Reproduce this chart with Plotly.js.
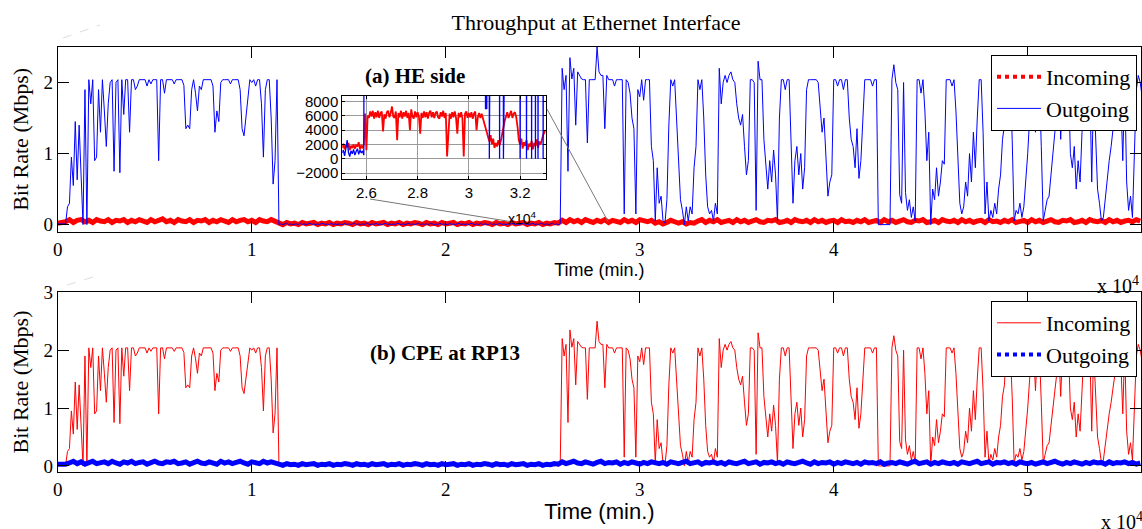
<!DOCTYPE html>
<html><head><meta charset="utf-8">
<script src="https://cdn.plot.ly/plotly-3.0.1.min.js"></script>
<style>html,body{margin:0;padding:0;background:#fff}#chart{width:1142px;height:529px}</style>
</head><body><div id="chart"></div>
<script>
const W = 1142, H = 529;
// time axis (samples every 100 s for the traffic, 200 s for the low-rate band)
const timeStart = 0, timeStep = 100, bandStep = 200;
const tickVals = [0, 10000, 20000, 30000, 40000, 50000];
const tickText = ['0', '1', '2', '3', '4', '5'];
const yTicksTop = [0, 1, 2];
const yTicksBottom = [0, 1, 2, 3];

// (a) HE side, Outgoing (Mbps)
const outgoingHE = [
0.01,0.01,0.01,0.01,0.01,0.25,0.3,0.95,0.55,1.45,
0.63,1.4,0.7,0.0,1.9,0.0,2.04,1.7,2.04,0.9,
0.95,1.9,1.3,2.04,1.6,1.1,1.7,2.0,2.04,0.75,
2.0,2.04,0.73,2.04,1.55,2.04,2.04,1.3,2.04,2.04,
1.9,1.95,2.04,2.04,2.04,2.04,1.95,2.04,1.98,2.04,
2.04,2.04,0.9,2.04,2.04,1.85,2.04,2.04,2.04,2.04,
1.98,2.04,2.04,2.04,2.04,1.96,1.35,1.4,1.35,1.9,
2.04,1.85,1.6,1.95,1.9,2.04,2.04,2.04,2.04,2.04,
1.95,1.3,1.6,1.45,2.0,2.04,2.04,2.04,2.04,1.98,
2.04,2.04,2.04,2.04,1.9,1.35,1.25,1.5,1.75,2.04,
2.0,2.04,1.95,2.04,2.04,1.7,0.95,1.9,2.04,2.04,
1.5,0.57,0.9,2.04,
0,0.01,0,0.01,0.02,0,0.01,0,0.01,0.01,
0,0.02,0,0.01,0,0.01,0.02,0,0.01,0,
0.01,0,0.02,0.01,0,0.01,0,0.02,0,0.01,
0,0.01,0.01,0,0.02,0,0.01,0,0.01,0.02,
0,0.01,0,0.01,0,0.02,0.01,0,0.01,0,
0.02,0,0.01,0,0.01,0.02,0,0.01,0,0.01,
0,0.02,0.01,0,0.01,0,0.01,0.02,0,0.01,
0,0.01,0.02,0,0.01,0,0.01,0,0.02,0.01,
0,0.01,0,0.02,0,0.01,0.01,0,0.02,0,
0.01,0,0.01,0.02,0,0.01,0,0.01,0,0.02,
0.01,0,0.01,0,0.02,0,0.01,0.01,0,0.02,
0,0.01,0,0.01,0.02,0,0.01,0,0.01,0,
0.02,0.01,0,0.01,0,0.01,0.02,0,0.01,0,
0.01,0.02,0,0.01,0,0.02,0.01,0,0.01,0,
0.01,0.02,0,0.01,0,0.01,
2.2,1.9,2.1,0.75,2.35,2.05,2.2,1.4,2.15,2.1,
2.05,2.04,2.04,1.15,2.04,2.04,2.04,2.04,2.5,2.15,
2.1,2.1,1.35,2.1,2.04,2.04,2.04,1.95,2.04,2.04,
2.04,2.04,0.15,2.04,2.0,1.85,1.5,1.35,0.15,1.9,
1.8,2.04,1.75,2.04,2.04,2.04,1.1,0.9,0.05,0.8,
0.3,0.4,0.05,0.02,0.35,1.4,2.04,1.95,2.04,1.4,
1.0,0.35,0.2,0.0,0.25,0.05,0.25,0.15,0.8,1.1,
2.04,1.9,2.04,1.5,0.7,0.25,0.15,0.2,0.05,0.3,
0.15,2.2,1.7,2.0,2.1,2.0,2.1,2.15,2.04,2.0,
1.7,1.5,1.4,1.55,1.1,0.7,0.9,2.04,2.04,2.0,
0.2,2.3,2.04,2.04,1.2,0.8,0.5,0.9,0.6,1.05,
0.7,0.05,1.5,2.04,2.04,1.9,2.04,2.04,1.3,0.3,
0.9,1.1,0.7,1.0,0.5,0.8,1.9,2.04,2.04,2.04,
2.04,2.04,2.0,1.6,1.3,1.5,0.9,0.4,0.6,0.7,
2.04,2.04,1.95,2.04,2.04,1.9,
2.04,2.04,1.5,1.2,1.1,0.8,1.35,0.65,0.9,1.4,
2.04,2.04,2.04,2.04,1.95,2.04,2.04,0.0,0.0,0.0,
0.0,0.0,0.0,0.0,2.04,2.25,2.0,1.9,0.42,0.3,
2.0,0.45,0.2,0.35,0.1,0.25,0.05,2.04,2.04,1.85,
2.04,1.6,0.9,1.3,0.0,0.5,0.35,0.8,0.4,0.6,
0.9,0.85,2.04,2.04,2.04,1.95,2.04,1.6,1.0,0.3,
0.15,0.25,0.6,0.4,1.0,0.6,1.3,0.8,1.5,2.04,
2.04,1.3,0.15,0.6,0.05,0.2,0.1,0.3,0.15,0.5,
0.7,1.2,1.4,2.04,2.04,2.0,1.2,0.05,0.2,0.15,
0.3,0.1,0.25,0.6,1.0,1.5,2.04,2.04,1.3,2.04,
2.0,1.1,0.05,0.2,0.35,0.4,0.7,0.9,1.2,1.6,
2.04,1.2,2.04,2.04,2.0,2.04,1.0,0.8,1.1,0.5,
0.9,0.6,1.3,2.04,2.04,1.8,2.04,0.6,2.0,1.2,
0.5,0.3,0.05,0.1,0.4,0.6,0.9,1.1,1.4,1.6,
2.04,2.04,1.8,0.9,2.04,0.6,0.2,0.4,0.1,1.0,
1.9,2.1,2.0,1.8
];

// (a) HE side, Incoming (Mbps), every 200 s
const incomingHE = [
0.02,0.03,0.04,0.07,0.03,0.06,0.07,0.04,0.06,0.03,
0.07,0.05,0.04,0.07,0.03,0.06,0.05,0.07,0.03,0.06,
0.04,0.07,0.05,0.03,0.07,0.04,0.06,0.08,0.04,0.06,
0.03,0.07,0.05,0.04,0.07,0.03,0.06,0.05,0.07,0.03,
0.06,0.04,0.07,0.05,0.03,0.07,0.04,0.06,0.07,0.04,
0.06,0.03,0.07,0.05,0.04,0.07,0.05,
0.02,0.0,0.03,0.01,0.02,0.0,0.03,0.01,0.02,0.03,
0.0,0.02,0.01,0.03,0.0,0.02,0.01,0.03,0.02,0.0,
0.03,0.01,0.02,0.0,0.03,0.01,0.02,0.03,0.0,0.02,
0.01,0.03,0.0,0.02,0.01,0.03,0.02,0.0,0.03,0.01,
0.02,0.0,0.03,0.01,0.02,0.03,0.0,0.02,0.01,0.03,
0.0,0.02,0.01,0.03,0.02,0.0,0.03,0.01,0.02,0.0,
0.03,0.01,0.02,0.03,0.0,0.02,0.01,0.03,0.0,0.02,
0.01,0.03,0.02,
0.06,0.03,0.07,0.04,0.06,0.03,0.07,0.05,0.03,0.06,
0.04,0.07,0.03,0.06,0.05,0.03,0.07,0.04,0.06,0.03,
0.07,0.05,0.04,0.06,0.02,0.04,0.01,0.03,0.06,0.04,
0.02,0.04,0.01,0.03,0.02,0.05,0.07,0.03,0.06,0.04,
0.07,0.03,0.05,0.06,0.03,0.07,0.04,0.06,0.03,0.05,
0.07,0.04,0.03,0.06,0.05,0.07,0.03,0.04,0.06,0.03,
0.07,0.05,0.04,0.06,0.03,0.07,0.04,0.06,0.03,0.05,
0.06,0.03,0.07,0.04,0.05,0.03,0.06,0.04,0.07,0.03,
0.05,0.06,0.03,0.07,0.04,0.06,0.03,0.05,0.07,0.04,
0.03,0.06,0.05,0.07,0.03,0.04,0.06,0.03,0.07,0.05,
0.04,0.06,0.03,0.07,0.04,0.06,0.03,0.05,0.06,0.03,
0.07,0.04,0.05,0.03,0.06,0.04,0.07,0.03,0.05,0.06,
0.03,0.07,0.04,0.06,0.03,0.05,0.07,0.04,0.03,0.06,
0.05,0.07,0.03,0.04,0.06,0.03,0.07,0.05,0.04,0.06,
0.03,0.07,0.04,0.06,0.03,0.05,0.06,0.04,0.07,0.05
];

// (b) CPE at RP13: the incoming traffic mirrors the HE outgoing traffic
const incomingCPE = outgoingHE;
// (b) CPE at RP13, Outgoing (Mbps), every 200 s
const outgoingCPE = [
0.03,0.02,0.03,
0.05,0.08,0.04,0.07,0.03,0.06,0.08,0.04,0.06,0.07,
0.04,0.08,0.05,0.03,0.07,0.05,0.08,0.04,0.06,0.07,
0.03,0.06,0.08,0.05,0.04,0.07,0.06,0.08,0.04,0.05,
0.07,0.03,0.06,0.08,0.05,0.04,0.07,0.06,0.03,0.08,
0.05,0.07,0.04,0.06,0.08,0.05,0.03,0.07,0.06,0.04,
0.08,0.05,0.07,0.06,
0.03,0.01,0.04,0.02,0.03,0.01,0.04,0.02,0.03,0.04,
0.01,0.03,0.02,0.04,0.01,0.03,0.02,0.04,0.03,0.01,
0.04,0.02,0.03,0.01,0.04,0.02,0.03,0.04,0.01,0.03,
0.02,0.04,0.01,0.03,0.02,0.04,0.03,0.01,0.04,0.02,
0.03,0.01,0.04,0.02,0.03,0.04,0.01,0.03,0.02,0.04,
0.01,0.03,0.02,0.04,0.03,0.01,0.04,0.02,0.03,0.01,
0.04,0.02,0.03,0.04,0.01,0.03,0.02,0.04,0.01,0.03,
0.02,0.04,0.03,
0.07,0.04,0.06,0.08,0.05,0.04,0.07,0.05,0.03,0.06,
0.08,0.04,0.06,0.05,0.07,0.03,0.06,0.04,0.07,0.05,
0.03,0.06,0.04,0.07,0.05,0.04,0.06,0.03,0.07,0.05,
0.04,0.06,0.08,0.04,0.05,0.07,0.03,0.06,0.05,0.07,
0.04,0.06,0.03,0.07,0.05,0.04,0.06,0.08,0.04,0.05,
0.07,0.03,0.06,0.05,0.07,0.04,0.06,0.03,0.07,0.05,
0.04,0.06,0.08,0.05,0.03,0.07,0.04,0.06,0.05,0.07,
0.03,0.06,0.04,0.07,0.05,0.04,0.06,0.03,0.07,0.05,
0.06,0.04,0.07,0.03,0.05,0.06,0.04,0.07,0.05,0.03,
0.06,0.08,0.04,0.05,0.07,0.03,0.06,0.04,0.07,0.05,
0.04,0.06,0.03,0.07,0.05,0.04,0.06,0.08,0.04,0.05,
0.07,0.03,0.06,0.05,0.07,0.04,0.06,0.03,0.07,0.05,
0.04,0.06,0.03,0.05,0.07,0.04,0.06,0.08,0.05,0.03,
0.06,0.04,0.07,0.05,0.03,0.06,0.04,0.07,0.05,0.06,
0.03,0.07,0.04,0.06,0.05,0.07,0.04,0.06,0.03,0.05
];

// inset (zoom of HE side, x 10^4 time, rate in units of 10 bps), every 50 s from 25050
const insetStart = 25050, insetStep = 50;
const insetXTicks = [26000, 28000, 30000, 32000];
const insetXText = ['2.6', '2.8', '3', '3.2'];
const insetYTicks = [-2000, 0, 2000, 4000, 6000, 8000];
const insetIncoming = [
1500,2100,1300,1900,1600,2200,1200,1800,1500,2000,
1400,1900,1700,2300,1300,1800,1600,2000,6300,1200,
6000,5700,6600,5900,6700,5600,6500,5800,6700,5700,
6400,6600,3800,6200,5600,6500,6700,5800,6400,7300,
5900,5700,6600,2600,6400,5800,6700,5600,6500,5900,
6700,5700,6400,4000,6900,5900,5600,6600,5800,6500,
5900,3500,6400,5700,6600,5800,6500,5600,6400,6700,
5800,6500,5700,6400,6600,5800,5600,6500,5900,6700,
5700,6400,300,4000,6300,5600,6500,5800,6600,5700,
3500,6400,5800,6500,5600,300,6300,6600,5700,6400,
5800,6500,5600,6300,6600,4000,5800,6400,5700,6300,
5600,5000,4500,3800,3000,2400,3300,2000,2800,1500,
2200,1700,2600,1900,2500,3500,4500,5300,5900,6500,
5700,6400,6700,5700,6300,6500,5800,4500,2600,2000,
2800,1400,2300,1800,2600,1200,2100,1700,2500,1300,
2200,1800,2700,1500,2400,2000,2800,3300,3700,4000
];
const insetOutgoing = [
800,1200,400,1500,2600,900,300,1100,700,1300,
500,1000,1400,600,1200,800,1100,500,
200000,200000,200000,200000,200000,200000,200000,200000,200000,200000,
200000,200000,200000,200000,200000,200000,200000,200000,200000,200000,
200000,200000,200000,200000,200000,200000,200000,200000,200000,200000,
200000,200000,200000,200000,200000,200000,200000,200000,200000,200000,
200000,200000,200000,200000,200000,200000,200000,200000,200000,200000,
200000,200000,200000,200000,200000,200000,200000,200000,200000,200000,
200000,200000,200000,200000,200000,200000,200000,200000,200000,200000,
200000,200000,200000,200000,200000,200000,200000,200000,200000,200000,
200000,200000,200000,200000,200000,200000,200000,200000,200000,200000,
200000,200000,200000,200000,
7000,7000,200000,0,200000,200000,200000,200000,200000,200000,
200000,0,200000,200000,0,200000,200000,200000,200000,200000,
200000,200000,200000,200000,200000,200000,200000,0,200000,200000,
200000,200000,0,200000,200000,200000,0,200000,200000,0,
200000,0,200000,200000,200000,0,200000,200000
];

const RED = '#ff0000', BLUE = '#0000ff';
const SERIF = 'Liberation Serif, Times New Roman, serif';
const SANS = 'Liberation Sans, Arial, sans-serif';
const px = v => v / W, py = v => 1 - v / H;

const traces = [
  // legend entries (styles of the series)
  {type:'scatter', mode:'lines', x:[null], y:[null], xaxis:'x', yaxis:'y', name:'Incoming',
   line:{color:RED, width:4, dash:'dot'}, legend:'legend'},
  {type:'scatter', mode:'lines', x:[null], y:[null], xaxis:'x', yaxis:'y', name:'Outgoing',
   line:{color:BLUE, width:1}, legend:'legend'},
  {type:'scatter', mode:'lines', x:[null], y:[null], xaxis:'x2', yaxis:'y2', name:'Incoming',
   line:{color:RED, width:1}, legend:'legend2'},
  {type:'scatter', mode:'lines', x:[null], y:[null], xaxis:'x2', yaxis:'y2', name:'Outgoing',
   line:{color:BLUE, width:4, dash:'dot'}, legend:'legend2'},

  // data
  {type:'scatter', mode:'lines', x0:timeStart, dx:bandStep, y:incomingHE, xaxis:'x', yaxis:'y',
   name:'Incoming', line:{color:RED, width:5}, showlegend:false, hoverinfo:'skip'},
  {type:'scatter', mode:'lines', x0:timeStart, dx:timeStep, y:outgoingHE, xaxis:'x', yaxis:'y',
   name:'Outgoing', line:{color:BLUE, width:1}, showlegend:false, hoverinfo:'skip'},
  {type:'scatter', mode:'lines', x0:timeStart, dx:timeStep, y:incomingCPE, xaxis:'x2', yaxis:'y2',
   name:'Incoming', line:{color:RED, width:1}, showlegend:false, hoverinfo:'skip'},
  {type:'scatter', mode:'lines', x0:timeStart, dx:bandStep, y:outgoingCPE, xaxis:'x2', yaxis:'y2',
   name:'Outgoing', line:{color:BLUE, width:5}, showlegend:false, hoverinfo:'skip'},
  {type:'scatter', mode:'lines', x0:insetStart, dx:insetStep, y:insetIncoming, xaxis:'x3', yaxis:'y3',
   name:'Incoming', line:{color:RED, width:1.8}, showlegend:false, hoverinfo:'skip'},
  {type:'scatter', mode:'lines', x0:insetStart, dx:insetStep, y:insetOutgoing, xaxis:'x3', yaxis:'y3',
   name:'Outgoing', line:{color:BLUE, width:1.3}, showlegend:false, hoverinfo:'skip'}
];

const baseAxis = {
  showline:true, linecolor:'#000', linewidth:1, mirror:'ticks', ticks:'inside', ticklen:11,
  tickcolor:'#000', tickwidth:1, showgrid:false, zeroline:false, automargin:false,
  tickfont:{family:SERIF, size:19, color:'#000'}
};
const xMainDomain = [px(57.8), px(1141)];
const xMain = Object.assign({}, baseAxis, {range:[0, 55840], tickvals:tickVals, ticktext:tickText});
const legendStyle = {xanchor:'right', yanchor:'top', bgcolor:'#fff', bordercolor:'#000', borderwidth:1,
  font:{family:SERIF, size:22, color:'#000'}, itemwidth:44, tracegroupgap:0};

const layout = {
  width:W, height:H, margin:{l:0, r:0, t:0, b:0},
  paper_bgcolor:'#fff', plot_bgcolor:'#fff',
  title:{text:'Throughput at Ethernet Interface', font:{family:SERIF, size:22, color:'#000'},
         x:px(596), xanchor:'center', y:py(22), yanchor:'middle'},
  xaxis:Object.assign({}, xMain, {domain:xMainDomain, anchor:'y',
        title:{text:'Time (min.)', font:{family:SANS, size:18, color:'#000'}, standoff:4}}),
  yaxis:Object.assign({}, baseAxis, {domain:[py(231.7), py(47)], anchor:'x', range:[-0.1, 2.5], tickvals:yTicksTop,
        title:{text:'Bit Rate (Mbps)', font:{family:SERIF, size:22, color:'#000'}, standoff:8}}),
  xaxis2:Object.assign({}, xMain, {domain:xMainDomain, anchor:'y2',
        title:{text:'Time (min.)', font:{family:SANS, size:22, color:'#000'}, standoff:3}}),
  yaxis2:Object.assign({}, baseAxis, {domain:[py(471.7), py(292.3)], anchor:'x2', range:[-0.1, 3], tickvals:yTicksBottom,
        title:{text:'Bit Rate (Mbps)', font:{family:SERIF, size:22, color:'#000'}, standoff:8}}),
  xaxis3:Object.assign({}, baseAxis, {domain:[px(342.3), px(545.7)], anchor:'y3', range:[25060, 33000],
        tickvals:insetXTicks, ticktext:insetXText, ticklen:3, showgrid:true, gridcolor:'#9a9a9a', gridwidth:1,
        tickfont:{family:SANS, size:15, color:'#000'}}),
  yaxis3:Object.assign({}, baseAxis, {domain:[py(179.3), py(95.7)], anchor:'x3', range:[-2880, 8810],
        tickvals:insetYTicks, ticklen:3, showgrid:true, gridcolor:'#9a9a9a', gridwidth:1,
        tickfont:{family:SANS, size:15, color:'#000'}}),
  legend:Object.assign({}, legendStyle, {x:px(1137), y:py(55)}),
  legend2:Object.assign({}, legendStyle, {x:px(1137), y:py(301)}),
  annotations:[
    {text:'<b>(a) HE side</b>', x:px(415), y:py(76.5), xref:'paper', yref:'paper', xanchor:'center', yanchor:'middle',
     showarrow:false, font:{family:SERIF, size:21, color:'#000'}},
    {text:'<b>(b) CPE at RP13</b>', x:px(445), y:py(353), xref:'paper', yref:'paper', xanchor:'center', yanchor:'middle',
     showarrow:false, font:{family:SERIF, size:21, color:'#000'}},
    {text:'x 10<sup>4</sup>', x:px(1141), y:py(285), xref:'paper', yref:'paper', xanchor:'right', yanchor:'middle',
     showarrow:false, font:{family:SERIF, size:20, color:'#000'}},
    {text:'x 10<sup>4</sup>', x:px(1099), y:py(521), xref:'paper', yref:'paper', xanchor:'left', yanchor:'middle',
     showarrow:false, font:{family:SERIF, size:20, color:'#000'}},
    {text:'x10<sup>4</sup>', x:px(506), y:py(218), xref:'paper', yref:'paper', xanchor:'left', yanchor:'middle',
     showarrow:false, font:{family:SANS, size:14, color:'#000'}}
  ],
  shapes:[
    {type:'line', xref:'paper', yref:'paper', x0:px(370), y0:py(199), x1:px(510), y1:py(221.5), line:{color:'#777', width:1}},
    {type:'line', xref:'paper', yref:'paper', x0:px(547), y0:py(109), x1:px(608), y1:py(221.5), line:{color:'#777', width:1}},
    {type:'line', xref:'paper', yref:'paper', x0:px(63), y0:py(38), x1:px(100), y1:py(25), line:{color:'#ddd', width:1, dash:'dash'}},
    {type:'line', xref:'paper', yref:'paper', x0:px(67), y0:py(285), x1:px(100), y1:py(275), line:{color:'#ddd', width:1, dash:'dash'}}
  ]
};

Plotly.newPlot('chart', traces, layout, {displayModeBar:false, staticPlot:true});
</script></body></html>
